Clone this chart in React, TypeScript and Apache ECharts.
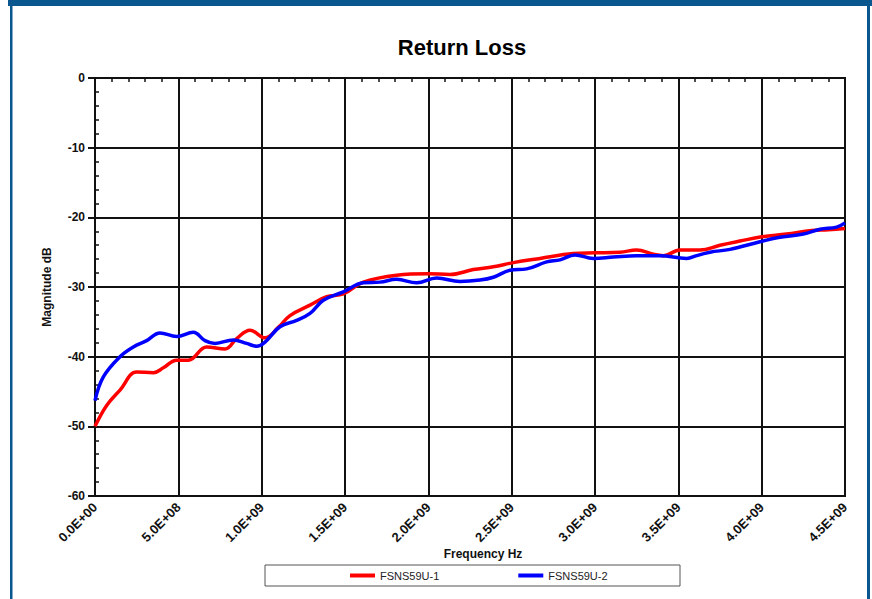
import React, { useEffect, useRef } from "react";
import * as echarts from "echarts";

const chartTitle = "Return Loss";
const xAxisTitle = "Frequency Hz";
const yAxisTitle = "Magnitude dB";
const seriesNames = ["FSNS59U-1", "FSNS59U-2"];

// Frequency (Hz) and magnitude (dB)
const freq1 = [0, 0.7e8, 1.5e8, 2.5e8, 3.5e8, 4.1e8, 4.9e8, 5.6e8, 6.7e8, 7.8e8, 8.5e8, 9.3e8, 1.02e9, 1.1e9, 1.17e9, 1.29e9, 1.39e9, 1.49e9, 1.61e9, 1.81e9, 2.0e9, 2.13e9, 2.27e9, 2.39e9, 2.51e9, 2.67e9, 2.87e9, 3.0e9, 3.15e9, 3.25e9, 3.35e9, 3.41e9, 3.51e9, 3.63e9, 3.75e9, 3.87e9, 4.0e9, 4.15e9, 4.3e9, 4.4e9, 4.5e9];
const mag1 = [-50, -47.0, -44.8, -42.2, -42.3, -41.6, -40.5, -40.5, -38.6, -38.9, -37.4, -36.2, -37.3, -35.8, -34.1, -32.6, -31.4, -31.0, -29.3, -28.3, -28.1, -28.2, -27.5, -27.1, -26.5, -25.9, -25.2, -25.1, -25.0, -24.7, -25.3, -25.5, -24.7, -24.7, -24.0, -23.4, -22.8, -22.4, -21.9, -21.8, -21.6];

const freq2 = [0, 0.5e8, 1.5e8, 2.3e8, 3.1e8, 3.9e8, 4.9e8, 5.9e8, 6.6e8, 7.2e8, 8.3e8, 9.1e8, 9.7e8, 1.02e9, 1.11e9, 1.21e9, 1.29e9, 1.37e9, 1.49e9, 1.61e9, 1.71e9, 1.81e9, 1.93e9, 2.05e9, 2.19e9, 2.31e9, 2.39e9, 2.49e9, 2.59e9, 2.71e9, 2.79e9, 2.88e9, 2.99e9, 3.11e9, 3.25e9, 3.39e9, 3.55e9, 3.61e9, 3.69e9, 3.81e9, 3.99e9, 4.1e9, 4.25e9, 4.35e9, 4.45e9, 4.5e9];
const mag2 = [-46.3, -42.9, -40.0, -38.6, -37.7, -36.6, -37.1, -36.5, -37.7, -38.1, -37.6, -38.1, -38.5, -37.9, -35.7, -34.8, -33.8, -31.9, -30.7, -29.4, -29.3, -28.9, -29.4, -28.7, -29.2, -29.0, -28.6, -27.6, -27.4, -26.4, -26.1, -25.4, -25.9, -25.7, -25.5, -25.5, -25.9, -25.5, -25.0, -24.6, -23.5, -22.9, -22.4, -21.7, -21.4, -20.8];

const fmtExp = (v: number) => {
  const s = v.toExponential(1).toUpperCase();
  const m = s.match(/^(-?[\d.]+)E([+-])(\d+)$/);
  if (!m) return s;
  return `${m[1]}E${m[2]}${m[3].padStart(2, "0")}`;
};

export default function App() {
  const ref = useRef<HTMLDivElement>(null);
  useEffect(() => {
    if (!ref.current) return;
    const chart = echarts.init(ref.current, null, { renderer: "svg" });
    const frame = "#0a568f";
    const font = "'Liberation Sans', Arial, sans-serif";
    chart.setOption({
      animation: false,
      backgroundColor: "#ffffff",
      grid: {
        left: 95,
        right: 27,
        top: 78,
        bottom: 103,
        show: true,
        borderColor: "#111",
        borderWidth: 2,
        backgroundColor: "#fff",
      },
      legend: {
        left: 350,
        top: 570,
        padding: 0,
        itemWidth: 25,
        itemHeight: 4,
        itemGap: 79,
        icon: "rect",
        textStyle: { fontFamily: font, fontSize: 11, color: "#222" },
        data: seriesNames,
      },
      xAxis: [
        {
          type: "value",
          position: "bottom",
          min: 0,
          max: 4.5e9,
          interval: 5e8,
          axisLine: { show: true, onZero: false, lineStyle: { color: "#111", width: 2 } },
          axisTick: { show: false },
          splitLine: { show: true, lineStyle: { color: "#111", width: 2 } },
          axisLabel: {
            rotate: 45,
            margin: 9,
            fontFamily: font,
            fontSize: 13,
            fontWeight: "bold",
            color: "#111",
            formatter: (v: number) => fmtExp(v),
          },
        },
        {
          type: "value",
          position: "top",
          min: 0,
          max: 4.5e9,
          interval: 1e8,
          axisLine: { show: true, onZero: false, lineStyle: { color: "#111", width: 2 } },
          axisTick: { show: true, inside: true, length: 4, lineStyle: { color: "#111", width: 1.5 } },
          axisLabel: { show: false },
          splitLine: { show: false },
        },
      ],
      yAxis: [
        {
          type: "value",
          min: -60,
          max: 0,
          interval: 10,
          axisLine: { show: true, onZero: false, lineStyle: { color: "#111", width: 2 } },
          axisTick: { show: true, inside: false, length: 7, lineStyle: { color: "#111", width: 2 } },
          splitLine: { show: true, lineStyle: { color: "#111", width: 2 } },
          axisLabel: {
            margin: 10,
            fontFamily: font,
            fontSize: 12,
            fontWeight: "bold",
            color: "#111",
          },
        },
        {
          type: "value",
          position: "left",
          min: -60,
          max: 0,
          interval: 2,
          axisLine: { show: false },
          axisTick: { show: true, inside: true, length: 4, lineStyle: { color: "#111", width: 1.5 } },
          axisLabel: { show: false },
          splitLine: { show: false },
        },
      ],
      series: [
        {
          name: seriesNames[0],
          type: "line",
          smooth: 0.4,
          showSymbol: false,
          symbol: "none",
          color: "#ff0000",
          lineStyle: { color: "#ff0000", width: 3.5 },
          data: freq1.map((f, i) => [f, mag1[i]]),
          z: 3,
        },
        {
          name: seriesNames[1],
          type: "line",
          smooth: 0.4,
          showSymbol: false,
          symbol: "none",
          color: "#0000ff",
          lineStyle: { color: "#0000ff", width: 3.5 },
          data: freq2.map((f, i) => [f, mag2[i]]),
          z: 4,
        },
      ],
      graphic: [
        { type: "rect", shape: { x: 8, y: 0, width: 864, height: 6 }, style: { fill: frame }, silent: true },
        { type: "rect", shape: { x: 10, y: 0, width: 2.5, height: 599 }, style: { fill: frame }, silent: true },
        { type: "rect", shape: { x: 867, y: 0, width: 3, height: 599 }, style: { fill: frame }, silent: true },
        {
          type: "rect",
          shape: { x: 265, y: 565, width: 415, height: 21 },
          style: { fill: "#fff", stroke: "#555", lineWidth: 1 },
          z: -1,
          silent: true,
        },
        {
          type: "text",
          x: 462,
          y: 47,
          style: {
            text: chartTitle,
            fontFamily: font,
            fontSize: 22,
            fontWeight: "bold",
            fill: "#000",
            align: "center",
            verticalAlign: "middle",
          },
        },
        {
          type: "text",
          x: 483,
          y: 554,
          style: {
            text: xAxisTitle,
            fontFamily: font,
            fontSize: 12,
            fontWeight: "bold",
            fill: "#111",
            align: "center",
            verticalAlign: "middle",
          },
        },
        {
          type: "text",
          x: 47,
          y: 287,
          rotation: Math.PI / 2,
          style: {
            text: yAxisTitle,
            fontFamily: font,
            fontSize: 12,
            fontWeight: "bold",
            fill: "#111",
            align: "center",
            verticalAlign: "middle",
          },
        },
      ],
    });
    return () => chart.dispose();
  }, []);
  return (
    <div
      ref={ref}
      style={{ position: "fixed", left: 0, top: 0, width: 872, height: 599, background: "#fff" }}
    />
  );
}
